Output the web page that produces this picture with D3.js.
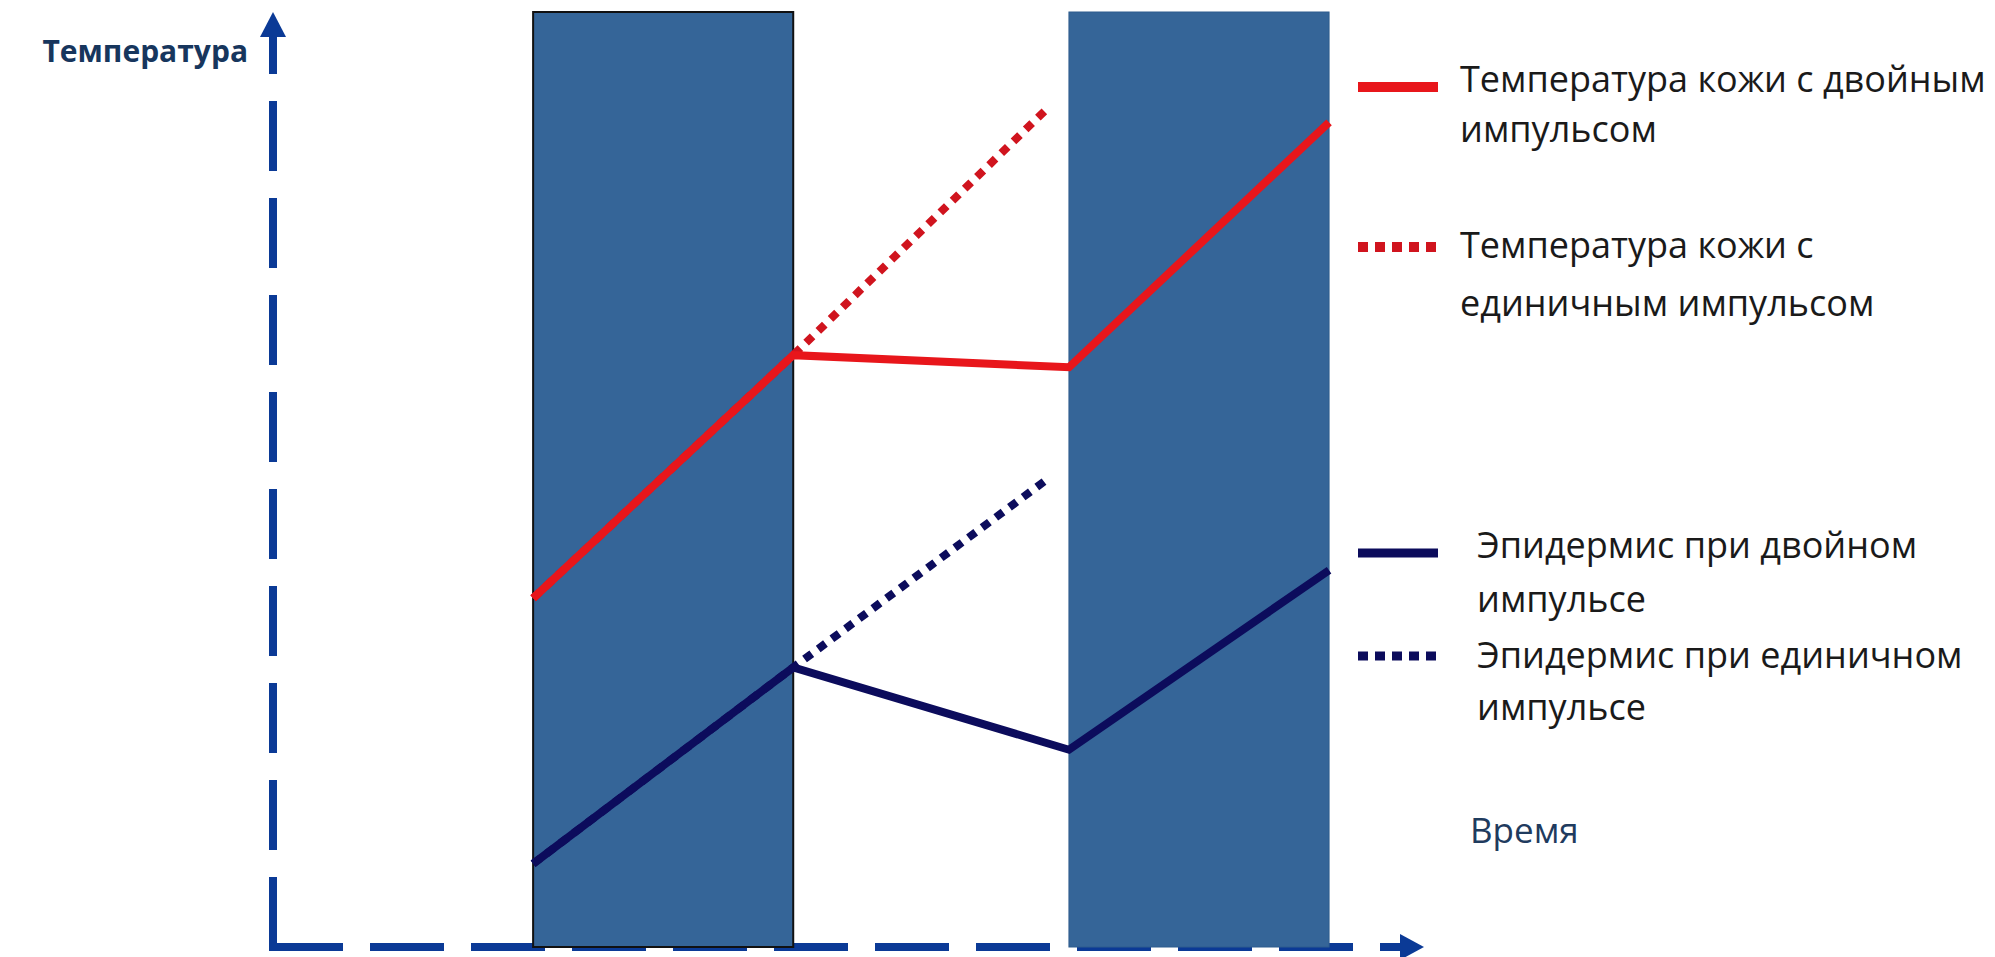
<!DOCTYPE html>
<meta charset="utf-8">
<script src="https://cdn.jsdelivr.net/npm/d3@7"></script>
<style>
body {
  margin: 0;
  background: #fff;
  font-family: "Open Sans", sans-serif;
}
.legend text {
  font-size: 36px;
  fill: #1a1a1a;
}
</style>
<body>
<script>

// time axis (arbitrary units) and temperature axis (arbitrary units)
var pulses = [[2.0, 4.0], [6.12, 8.12]];

// double pulse curves
var doubleTime = [2.0, 4.0, 6.12, 8.12];
var skinDouble = [37.3, 63.3, 62.0, 88.2];
var epiDouble  = [8.9, 29.9, 21.1, 40.3];

// single pulse curves (continue rising after first pulse)
var singleTime = [2.0, 4.0, 5.97];
var skinSingle = [37.3, 63.3, 89.9];
var epiSingle  = [8.9, 29.9, 50.2];

var legendLabels = [
  ["Температура кожи с двойным", "импульсом"],
  ["Температура кожи с", "единичным импульсом"],
  ["Эпидермис при двойном", "импульсе"],
  ["Эпидермис при единичном", "импульсе"]
];

var yLabel = "Температура";
var xLabel = "Время";

var width = 1995, height = 957;

var x = d3.scaleLinear().domain([0, 8.85]).range([273, 1424]);
var y = d3.scaleLinear().domain([0, 100]).range([947, 12]);

var axisColor = "#0b3a96";
var barColor = "#356598";
var red = "#e8161b", redDot = "#d0141e";
var navy = "#0c0c5c";

var svg = d3.select("body").append("svg")
    .attr("width", width)
    .attr("height", height);

// axes: dashed, with arrow heads
svg.append("line")
    .attr("x1", x(0)).attr("y1", y(0))
    .attr("x2", x(0)).attr("y2", y(100) + 24)
    .attr("stroke", axisColor)
    .attr("stroke-width", 8)
    .attr("stroke-dasharray", "70 27");
svg.append("path")
    .attr("d", "M" + (x(0) - 13) + "," + (y(100) + 25) + "L" + x(0) + "," + y(100) + "L" + (x(0) + 13) + "," + (y(100) + 25) + "Z")
    .attr("fill", axisColor);

svg.append("line")
    .attr("x1", x(0) - 4).attr("y1", y(0))
    .attr("x2", x(8.85) - 22).attr("y2", y(0))
    .attr("stroke", axisColor)
    .attr("stroke-width", 8)
    .attr("stroke-dasharray", "74 27");
svg.append("path")
    .attr("d", "M" + (x(8.85) - 24) + "," + (y(0) - 13) + "L" + x(8.85) + "," + y(0) + "L" + (x(8.85) - 24) + "," + (y(0) + 13) + "Z")
    .attr("fill", axisColor);

// pulse bars
svg.selectAll(".pulse")
    .data(pulses)
    .enter().append("rect")
    .attr("class", "pulse")
    .attr("x", function(d) { return x(d[0]); })
    .attr("y", y(100))
    .attr("width", function(d) { return x(d[1]) - x(d[0]); })
    .attr("height", y(0) - y(100))
    .attr("fill", barColor)
    .attr("stroke", function(d, i) { return i == 0 ? "#111" : "#2f5d8e"; })
    .attr("stroke-width", function(d, i) { return i == 0 ? 2 : 1; });

var line = d3.line()
    .x(function(d) { return x(d[0]); })
    .y(function(d) { return y(d[1]); });

function pts(t, v) {
  return t.map(function(d, i) { return [d, v[i]]; });
}

var series = [
  {pts: pts(singleTime, skinSingle), color: redDot, dash: "9 8"},
  {pts: pts(singleTime, epiSingle), color: navy, dash: "9 8"},
  {pts: pts(doubleTime, skinDouble), color: red, dash: null},
  {pts: pts(doubleTime, epiDouble), color: navy, dash: null}
];

svg.selectAll(".curve")
    .data(series)
    .enter().append("path")
    .attr("class", "curve")
    .attr("d", function(d) { return line(d.pts); })
    .attr("fill", "none")
    .attr("stroke", function(d) { return d.color; })
    .attr("stroke-width", 8)
    .attr("stroke-dasharray", function(d) { return d.dash; });

// axis labels
svg.append("text")
    .attr("x", 248)
    .attr("y", 62)
    .attr("text-anchor", "end")
    .style("font-size", "30px")
    .style("font-weight", "bold")
    .style("fill", "#17365d")
    .text(yLabel);

svg.append("text")
    .attr("x", 1470)
    .attr("y", 843)
    .style("font-size", "35px")
    .style("fill", "#1f3b5e")
    .text(xLabel);

// legend
var legendItems = [
  {color: red, dash: null, width: 10, y: 87, tx: 1460, base: [92, 142]},
  {color: redDot, dash: "10 7", width: 10, y: 247, tx: 1460, base: [258, 316]},
  {color: navy, dash: null, width: 9, y: 553, tx: 1477, base: [558, 612]},
  {color: navy, dash: "10 7", width: 9, y: 656, tx: 1477, base: [668, 720]}
];

var legend = svg.selectAll(".legend")
    .data(legendItems)
    .enter().append("g")
    .attr("class", "legend");

legend.append("line")
    .attr("x1", 1358).attr("x2", 1438)
    .attr("y1", function(d) { return d.y; })
    .attr("y2", function(d) { return d.y; })
    .attr("stroke", function(d) { return d.color; })
    .attr("stroke-width", function(d) { return d.width; })
    .attr("stroke-dasharray", function(d) { return d.dash; });

legend.each(function(d, i) {
  var g = d3.select(this);
  legendLabels[i].forEach(function(txt, j) {
    g.append("text")
        .attr("x", d.tx)
        .attr("y", d.base[j])
        .text(txt);
  });
});

</script>
</body>
</html>
